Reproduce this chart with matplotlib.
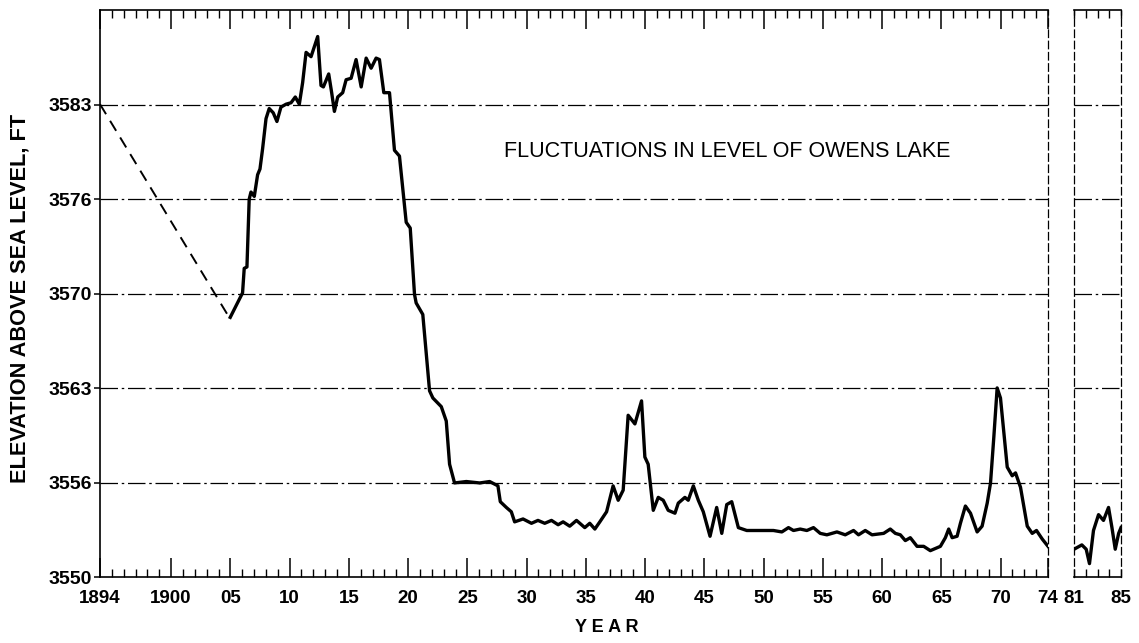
import matplotlib
matplotlib.use("Agg")
import matplotlib.pyplot as plt
import numpy as np

plt.rcParams['font.family'] = ['Liberation Sans', 'DejaVu Sans']

# lake level, feet above sea level
years_main = [1904.99, 1906.03, 1906.17, 1906.40, 1906.59, 1906.74, 1907.02, 1907.30, 1907.50, 1907.72,
              1908.01, 1908.28, 1908.62, 1908.93, 1909.27, 1909.70, 1910.12, 1910.48, 1910.82, 1911.10,
              1911.39, 1911.81, 1912.09, 1912.37, 1912.65, 1912.85, 1913.30, 1913.55, 1913.78, 1914.06,
              1914.48, 1914.77, 1915.19, 1915.61, 1916.04, 1916.46, 1916.88, 1917.30, 1917.58, 1917.95,
              1918.43, 1918.85, 1919.27, 1919.84, 1920.18, 1920.54, 1920.68, 1921.24, 1921.81, 1922.09,
              1922.80, 1923.22, 1923.50, 1923.92, 1924.91, 1926.04, 1926.88, 1927.58, 1927.78, 1928.29,
              1928.71, 1928.99, 1929.70, 1930.41, 1930.96, 1931.53, 1932.10, 1932.66, 1933.08, 1933.64,
              1934.21, 1934.91, 1935.33, 1935.76, 1936.18, 1936.75, 1937.30, 1937.73, 1938.15, 1938.57,
              1939.14, 1939.70, 1939.98, 1940.26, 1940.69, 1941.11, 1941.53, 1941.95, 1942.52, 1942.80,
              1943.36, 1943.64, 1944.07, 1944.49, 1944.91, 1945.48, 1946.04, 1946.47, 1946.89, 1947.31,
              1947.87, 1948.58, 1949.98, 1950.83, 1951.54, 1952.10, 1952.52, 1953.09, 1953.65, 1954.21,
              1954.78, 1955.34, 1956.19, 1956.89, 1957.59, 1958.01, 1958.58, 1959.15, 1960.13, 1960.69,
              1961.12, 1961.54, 1961.96, 1962.38, 1962.95, 1963.51, 1964.07, 1964.92, 1965.34, 1965.62,
              1965.91, 1966.33, 1966.61, 1967.03, 1967.46, 1968.02, 1968.44, 1968.87, 1969.15, 1969.43,
              1969.71, 1969.99, 1970.56, 1970.98, 1971.26, 1971.68, 1972.25, 1972.67, 1973.03, 1973.52,
              1974.0]
level_main = [3567.9, 3569.6, 3571.3, 3571.4, 3576.1, 3576.6, 3576.3, 3577.8, 3578.2, 3579.6,
              3581.7, 3582.4, 3582.1, 3581.5, 3582.5, 3582.7, 3582.8, 3583.2, 3582.7, 3584.2,
              3586.3, 3586.0, 3586.7, 3587.4, 3584.0, 3583.9, 3584.8, 3583.5, 3582.2, 3583.2,
              3583.5, 3584.4, 3584.5, 3585.8, 3583.9, 3585.9, 3585.2, 3585.9, 3585.8, 3583.5,
              3583.5, 3579.5, 3579.1, 3574.5, 3574.1, 3569.5, 3568.9, 3568.1, 3562.8, 3562.3,
              3561.7, 3560.7, 3557.7, 3556.4, 3556.5, 3556.4, 3556.5, 3556.2, 3555.1, 3554.7,
              3554.4, 3553.7, 3553.9, 3553.6, 3553.8, 3553.6, 3553.8, 3553.5, 3553.7, 3553.4,
              3553.8, 3553.3, 3553.6, 3553.2, 3553.7, 3554.4, 3556.2, 3555.2, 3555.9, 3561.1,
              3560.5, 3562.1, 3558.2, 3557.7, 3554.5, 3555.4, 3555.2, 3554.5, 3554.3, 3555.0,
              3555.4, 3555.2, 3556.2, 3555.2, 3554.4, 3552.7, 3554.7, 3552.9, 3554.9, 3555.1,
              3553.3, 3553.1, 3553.1, 3553.1, 3553.0, 3553.3, 3553.1, 3553.2, 3553.1, 3553.3,
              3552.9, 3552.8, 3553.0, 3552.8, 3553.1, 3552.8, 3553.1, 3552.8, 3552.9, 3553.2,
              3552.9, 3552.8, 3552.4, 3552.6, 3552.0, 3552.0, 3551.7, 3552.0, 3552.6, 3553.2,
              3552.6, 3552.7, 3553.6, 3554.8, 3554.3, 3553.0, 3553.4, 3555.0, 3556.4, 3559.6,
              3563.0, 3562.3, 3557.5, 3556.9, 3557.1, 3556.1, 3553.4, 3552.9, 3553.1, 3552.5,
              3552.0]

# estimated segment 1894-1905 (dashed)
years_est = [1894.0, 1904.9]
level_est = [3582.7, 3567.9]

years_late = [1981.0, 1981.66, 1982.03, 1982.31, 1982.65, 1983.08, 1983.50, 1983.93, 1984.22, 1984.50,
              1984.79, 1984.99]
level_late = [3551.8, 3552.1, 3551.8, 3550.8, 3553.1, 3554.2, 3553.8, 3554.7, 3553.3, 3551.8,
              3552.9, 3553.3]

# y grid is equally spaced in metres (1082..1092 m), labelled in feet
ytick_m = [1082, 1084, 1086, 1088, 1090, 1092]
ytick_labels = ['3550', '3556', '3563', '3570', '3576', '3583']
ylim_m = (1082, 1094)

xtick_pos = [1894, 1900, 1905, 1910, 1915, 1920, 1925, 1930, 1935, 1940, 1945, 1950, 1955, 1960,
             1965, 1970, 1974]
xtick_labels = ['1894', '1900', '05', '10', '15', '20', '25', '30', '35', '40', '45', '50', '55',
                '60', '65', '70', '74']
late_ticks = [1981, 1985]
late_labels = ['81', '85']

FT = 3.28084
yticks = [m * FT for m in ytick_m]
ylim = (ylim_m[0] * FT, ylim_m[1] * FT)

fig = plt.figure(figsize=(11.39, 6.43), dpi=100)
ax = fig.add_axes([0.0878, 0.1026, 0.8323, 0.8818])
ax2 = fig.add_axes([0.943, 0.1026, 0.0413, 0.8818])

grid_style = dict(color='black', lw=0.9, linestyle=(0, (14, 3, 2, 3)))

for a in (ax, ax2):
    a.set_ylim(ylim)
    a.set_yticks(yticks)
    for yv in yticks[1:]:
        a.axhline(yv, **grid_style, zorder=1)
    for s in a.spines.values():
        s.set_linewidth(1.2)

# main panel
ax.plot(years_main, level_main, color='black', lw=2.4, solid_joinstyle='round', zorder=3)
ax.plot(years_est, level_est, color='black', lw=1.4, linestyle=(0, (6, 4)), zorder=3)
ax.set_xlim(1894, 1974)
ax.set_xticks(xtick_pos)
ax.set_xticklabels(xtick_labels)
ax.set_xticks(np.arange(1895, 1974), minor=True)
ax.set_yticklabels(ytick_labels)
ax.tick_params(axis='x', which='major', direction='in', top=True, length=14, width=1.1, pad=9,
               labelsize=13.5)
ax.tick_params(axis='x', which='minor', direction='in', top=True, length=6, width=1.0)
ax.tick_params(axis='y', which='major', direction='out', length=4, width=1.1, pad=2,
               labelsize=14)
ax.spines['right'].set_linestyle((0, (6, 3)))
ax.spines['right'].set_linewidth(0.9)
for lab in ax.get_xticklabels() + ax.get_yticklabels():
    lab.set_fontweight('bold')

ax.text(1946.9, 3579.4, 'FLUCTUATIONS IN LEVEL OF OWENS LAKE', ha='center', va='center',
        fontsize=15.5)

# later years panel
ax2.plot(years_late, level_late, color='black', lw=2.4, solid_joinstyle='round', zorder=3)
ax2.set_xlim(1981, 1985)
ax2.set_xticks(late_ticks)
ax2.set_xticklabels(late_labels)
ax2.set_xticks([1982, 1983, 1984], minor=True)
ax2.tick_params(axis='x', which='major', direction='in', top=True, length=6, width=1.0, pad=9,
                labelsize=13.5)
ax2.tick_params(axis='x', which='minor', direction='in', top=True, length=6, width=1.0)
ax2.tick_params(axis='y', left=False, labelleft=False)
for side in ('left', 'right'):
    ax2.spines[side].set_linestyle((0, (6, 3)))
    ax2.spines[side].set_linewidth(0.9)
for lab in ax2.get_xticklabels():
    lab.set_fontweight('bold')

fig.text(607 / 1139, 1 - 628 / 643, 'Y E A R', ha='center', va='center', fontsize=13,
         fontweight='bold')
fig.text(20 / 1139, 1 - 298 / 643, 'ELEVATION ABOVE SEA LEVEL, FT', rotation=90, ha='center',
         va='center', fontsize=15.7, fontweight='bold')

fig.savefig('out.png', dpi=100)
